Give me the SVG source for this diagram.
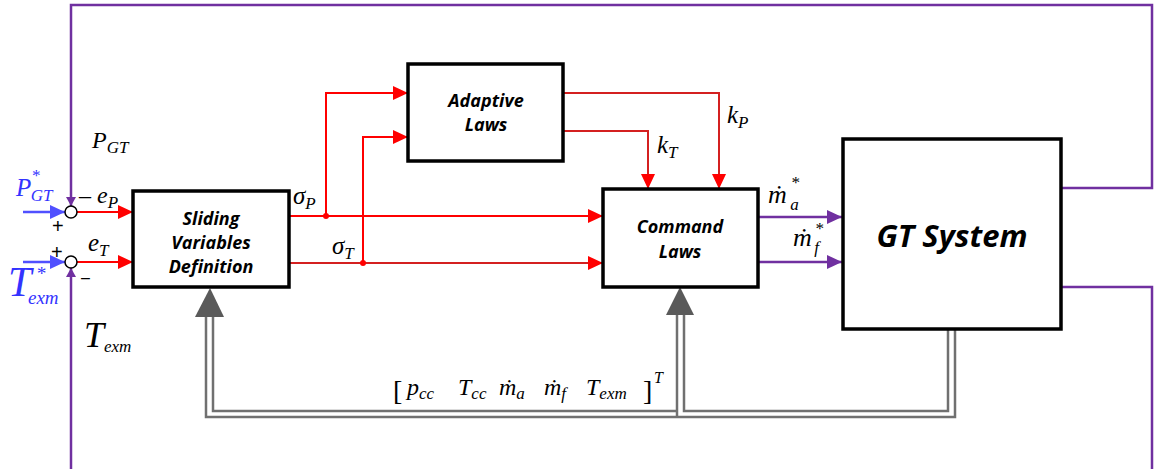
<svg xmlns="http://www.w3.org/2000/svg" width="1158" height="469" viewBox="0 0 1158 469">
<style>
.box{fill:#fff;stroke:#000;stroke-width:3.5}
.lbl{font-family:"Open Sans","Liberation Sans",sans-serif;font-weight:bold;font-style:italic;fill:#000;text-anchor:middle}
.m{font-family:"Liberation Serif","DejaVu Serif",serif;font-style:italic;fill:#000}
.br{font-family:"Liberation Serif","DejaVu Serif",serif;font-style:normal;fill:#000}
.blue{fill:#3333ff}
.red{fill:none;stroke:#ff0000;stroke-width:2}
.dred{fill:none;stroke:#d42020;stroke-width:2}
.pur{fill:none;stroke:#7030a0;stroke-width:2.5}
.blu{fill:none;stroke:#5050ff;stroke-width:2.5}
.gry{fill:none;stroke:#707070;stroke-width:2.5}
.sum{fill:#fff;stroke:#000;stroke-width:1.5}
.pl{font-family:"Liberation Sans",sans-serif;fill:#000}
</style>
<defs>
<marker id="ar" markerUnits="userSpaceOnUse" markerWidth="16" markerHeight="14" refX="15" refY="7" orient="auto"><path d="M0,0 L15,7 L0,14 z" fill="#ff0000"/></marker>
<marker id="ap" markerUnits="userSpaceOnUse" markerWidth="16" markerHeight="14" refX="15" refY="7" orient="auto"><path d="M0,0 L15,7 L0,14 z" fill="#7030a0"/></marker>
<marker id="apd" markerUnits="userSpaceOnUse" markerWidth="10" markerHeight="10" refX="9" refY="5" orient="auto"><path d="M0,0 L9,5 L0,10 z" fill="#7030a0"/></marker>
<marker id="ab" markerUnits="userSpaceOnUse" markerWidth="16" markerHeight="14" refX="15" refY="7" orient="auto"><path d="M0,0 L15,7 L0,14 z" fill="#5050ff"/></marker>
</defs>
<rect width="1158" height="469" fill="#fff"/>

<g id="connectors">
  <path class="pur" d="M1061,188 H1152 V5 H71 V206" marker-end="url(#apd)"/>
  <path class="pur" d="M1061,287 H1152 V469"/>
  <path class="pur" d="M71,469 V268" marker-end="url(#apd)"/>
  <path class="blu" d="M23,212 H65" marker-end="url(#ab)"/>
  <path class="blu" d="M23,262 H65" marker-end="url(#ab)"/>
  <path class="red" d="M77,212 H133" marker-end="url(#ar)"/>
  <path class="red" d="M77,262 H133" marker-end="url(#ar)"/>
  <path class="red" d="M290,216 H603" marker-end="url(#ar)"/>
  <path class="dred" d="M290,263 H603" marker-end="url(#ar)"/>
  <path class="red" d="M326,216 V93 H408" marker-end="url(#ar)"/>
  <path class="red" d="M363,263 V137 H408" marker-end="url(#ar)"/>
  <circle cx="326" cy="216" r="3" fill="#ff0000"/>
  <circle cx="363" cy="263" r="3" fill="#ff0000"/>
  <path class="dred" d="M563,93 H719 V189" marker-end="url(#ar)"/>
  <path class="dred" d="M563,131 H648 V189" marker-end="url(#ar)"/>
  <path class="pur" d="M758,217 H842" marker-end="url(#ap)"/>
  <path class="pur" d="M758,262 H842" marker-end="url(#ap)"/>
  <path class="gry" d="M955,330 V417 H206 V315"/>
  <path class="gry" d="M948,330 V411 H684 V313"/>
  <path class="gry" d="M213,315 V411 H677"/>
  <path class="gry" d="M677,313 V417"/>
  <polygon points="210,288 224,317 195,317" fill="#5a5a5a"/>
  <polygon points="680,287 694,315 666,315" fill="#5a5a5a"/>
</g>

<g id="sum-p"><circle class="sum" cx="71" cy="212" r="6"/></g>
<g id="sum-t"><circle class="sum" cx="71" cy="262" r="6"/></g>

<g id="sliding">
  <rect class="box" x="133" y="191" width="156" height="96"/>
  <text class="lbl" font-size="18" x="211" y="225">Sliding</text>
  <text class="lbl" font-size="18" x="211" y="249">Variables</text>
  <text class="lbl" font-size="18" x="211" y="273">Definition</text>
</g>
<g id="adaptive">
  <rect class="box" x="408" y="64" width="155" height="97"/>
  <text class="lbl" font-size="18" x="486" y="107">Adaptive</text>
  <text class="lbl" font-size="18" x="486" y="131">Laws</text>
</g>
<g id="command">
  <rect class="box" x="603" y="189" width="155" height="98"/>
  <text class="lbl" font-size="18" x="680" y="233">Command</text>
  <text class="lbl" font-size="18" x="680" y="258">Laws</text>
</g>
<g id="gt">
  <rect class="box" x="843" y="139" width="218" height="190"/>
  <text class="lbl" font-size="31" x="952" y="247">GT System</text>
</g>

<g id="labels">
  <text class="m" font-size="24" x="92" y="148">P<tspan font-size="17" dy="5">GT</tspan></text>
  <text class="m blue" font-size="25" x="16" y="196">P<tspan font-size="17" dy="-15">*</tspan><tspan font-size="17" dx="-9" dy="20">GT</tspan></text>
  <text class="m" font-size="24" x="79" y="203">– e<tspan font-size="17" dy="5">P</tspan></text>
  <text class="pl" font-size="20" x="52" y="233">+</text>
  <text class="pl" font-size="20" x="51" y="259">+</text>
  <text class="m" font-size="25" x="88" y="251">e<tspan font-size="17" dy="5">T</tspan></text>
  <text class="pl" font-size="16" x="81" y="283" fill="#555">–</text>
  <text class="m blue" font-size="42" x="8" y="296">T</text>
  <text class="m blue" font-size="19" x="36" y="280">*</text>
  <text class="m blue" font-size="19" x="28" y="304">exm</text>
  <text class="m" font-size="36" x="84" y="347">T<tspan font-size="17" dy="5">exm</tspan></text>
  <text class="m" font-size="25" x="293" y="204">σ<tspan font-size="17" dy="5">P</tspan></text>
  <text class="m" font-size="25" x="332" y="254">σ<tspan font-size="17" dy="5">T</tspan></text>
  <text class="m" font-size="25" x="727" y="123">k<tspan font-size="17" dy="5">P</tspan></text>
  <text class="m" font-size="25" x="657" y="153">k<tspan font-size="17" dy="5">T</tspan></text>
  <text class="m" font-size="26" x="768" y="203">ṁ<tspan font-size="17" dx="4" dy="-15">*</tspan><tspan font-size="17" dx="-9" dy="22">a</tspan></text>
  <text class="m" font-size="26" x="793" y="246">ṁ<tspan font-size="17" dx="3" dy="-12">*</tspan><tspan font-size="17" dx="-9" dy="19">f</tspan></text>
  <text class="br" font-size="28" x="393" y="400">[</text>
  <text class="m" font-size="24" x="407" y="395">p<tspan font-size="17" dy="4">cc</tspan></text>
  <text class="m" font-size="24" x="458" y="395">T<tspan font-size="17" dy="4">cc</tspan></text>
  <text class="m" font-size="24" x="499" y="395">ṁ<tspan font-size="17" dy="4">a</tspan></text>
  <text class="m" font-size="24" x="544" y="395">ṁ<tspan font-size="17" dy="4">f</tspan></text>
  <text class="m" font-size="24" x="586" y="395">T<tspan font-size="17" dy="4">exm</tspan></text>
  <text class="br" font-size="28" x="643" y="400">]</text>
  <text class="m" font-size="16" x="654" y="383">T</text>
</g>
</svg>
